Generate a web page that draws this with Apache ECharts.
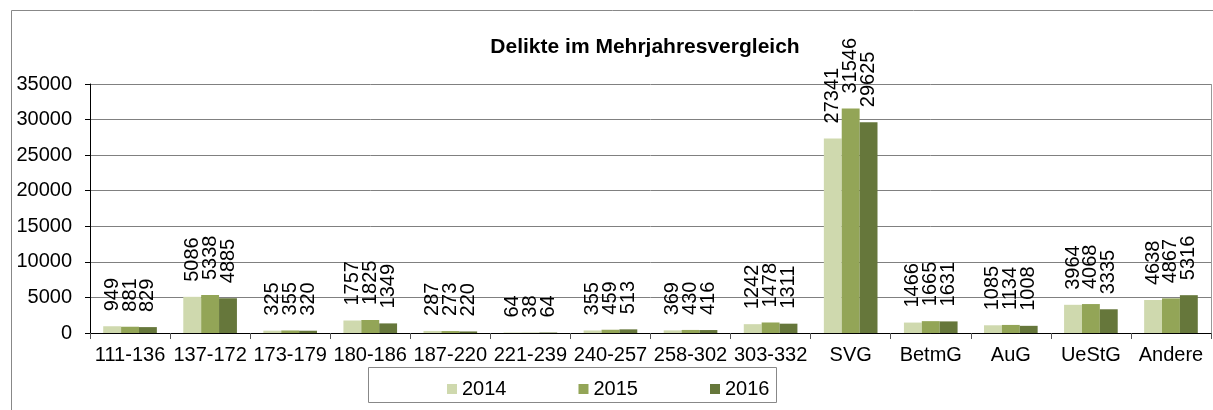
<!DOCTYPE html>
<html>
<head>
<meta charset="utf-8">
<script src="https://cdn.jsdelivr.net/npm/echarts@6/dist/echarts.min.js"></script>
<style>
  html, body { margin: 0; padding: 0; background: #fff; }
  #chart { width: 1213px; height: 410px; }
</style>
</head>
<body>
<div id="chart"></div>
<script>
// Kategorien und Werte
const categories = ['111-136', '137-172', '173-179', '180-186', '187-220', '221-239', '240-257',
  '258-302', '303-332', 'SVG', 'BetmG', 'AuG', 'UeStG', 'Andere']
const years = ['2014', '2015', '2016']
const values2014 = [949, 5086, 325, 1757, 287, 64, 355, 369, 1242, 27341, 1466, 1085, 3964, 4638]
const values2015 = [881, 5338, 355, 1825, 273, 38, 459, 430, 1478, 31546, 1665, 1134, 4068, 4867]
const values2016 = [829, 4885, 320, 1349, 220, 64, 513, 416, 1311, 29625, 1631, 1008, 3335, 5316]
const colors = ['#cfd9ae', '#93a557', '#66773b']

const font = '"Liberation Sans", Arial, sans-serif'
const chart = echarts.init(document.getElementById('chart'))

const makeSeries = (name, data, color) => ({
  name: name,
  type: 'bar',
  data: data,
  barGap: '0%',
  barCategoryGap: '33%',
  itemStyle: { color: color },
  label: {
    show: true,
    position: 'top',
    distance: 15,
    rotate: 90,
    align: 'left',
    verticalAlign: 'middle',
    color: '#000',
    fontFamily: font,
    fontSize: 20
  }
})

chart.setOption({
  animation: false,
  color: colors,
  title: {
    text: 'Delikte im Mehrjahresvergleich',
    left: 640,
    top: 32,
    textAlign: 'center',
    textStyle: { fontFamily: font, fontSize: 21, fontWeight: 'bold', color: '#000' }
  },
  legend: {
    data: years,
    left: 442,
    top: 374,
    itemWidth: 10,
    itemHeight: 10,
    itemGap: 72,
    icon: 'rect',
    textStyle: { fontFamily: font, fontSize: 20, color: '#000' }
  },
  grid: { left: 90, right: 2, top: 84, bottom: 77 },
  xAxis: {
    type: 'category',
    data: categories,
    axisLine: { lineStyle: { color: '#000', width: 1 } },
    axisTick: { show: true, length: 6, lineStyle: { color: '#555' } },
    axisLabel: { fontFamily: font, fontSize: 20, color: '#000', margin: 12, interval: 0 }
  },
  yAxis: {
    type: 'value',
    min: 0,
    max: 35000,
    interval: 5000,
    axisLine: { show: true, lineStyle: { color: '#000' } },
    axisTick: { show: true, length: 5, lineStyle: { color: '#000' } },
    axisLabel: { fontFamily: font, fontSize: 20, color: '#000', margin: 18, formatter: v => String(v) },
    splitLine: { lineStyle: { color: '#808080', width: 1 } }
  },
  graphic: [
    {
      type: 'rect',
      shape: { x: 11.5, y: 10.5, width: 1400, height: 600 },
      style: { fill: 'none', stroke: '#888', lineWidth: 1 },
      silent: true
    },
    {
      type: 'line',
      shape: { x1: 1211.5, y1: 84, x2: 1211.5, y2: 333 },
      style: { stroke: '#999', lineWidth: 1 },
      silent: true
    },
    {
      type: 'rect',
      shape: { x: 368.5, y: 367.5, width: 408, height: 35 },
      style: { fill: 'none', stroke: '#888', lineWidth: 1 },
      silent: true
    }
  ],
  series: [
    makeSeries(years[0], values2014, colors[0]),
    makeSeries(years[1], values2015, colors[1]),
    makeSeries(years[2], values2016, colors[2])
  ]
})
</script>
</body>
</html>
